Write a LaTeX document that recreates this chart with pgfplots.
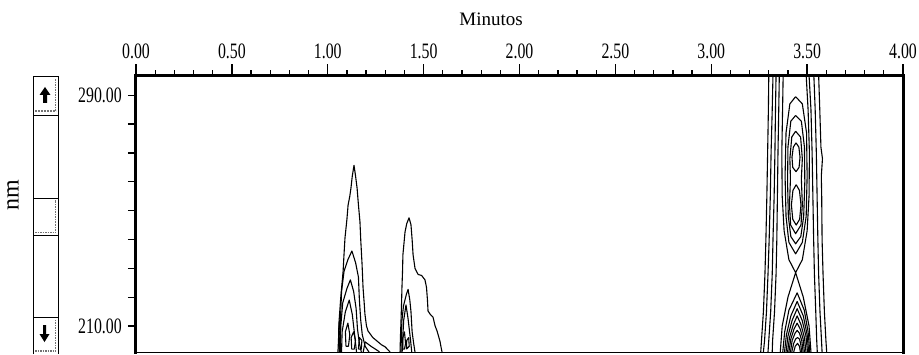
\documentclass[border=0pt]{standalone}
\usepackage{fontspec}
\setmainfont{Liberation Serif}
\newfontfamily\tickfont[FakeStretch=0.72]{Liberation Serif}
\usepackage{pgfplots}
\pgfplotsset{compat=1.18}
\tikzset{ct/.style={black, line width=1.1pt, mark=none, line join=round}}
\begin{document}
\begin{tikzpicture}[x=1pt,y=1pt]
\path[use as bounding box] (0,0) rectangle (919,354);
\begin{axis}[
  at={(136pt,2pt)}, anchor=south west,
  scale only axis, width=767pt, height=277pt,
  xmin=0, xmax=4, ymin=201, ymax=297,
  clip=false,
  axis line style={line width=0.8pt},
  xtick={0,0.5,1,1.5,2,2.5,3,3.5,4},
  xticklabels={0.00,0.50,1.00,1.50,2.00,2.50,3.00,3.50,4.00},
  minor x tick num=4,
  ytick={210,220,230,240,250,260,270,280,290},
  yticklabels={210.00,{},{},{},{},{},{},{},290.00},
  xtick pos=right, xticklabel pos=right,
  ytick pos=left, yticklabel pos=left,
  tick align=outside,
  major tick length=11pt, minor tick length=5pt,
  every tick/.style={black, line width=1.3pt},
  ytick style={/pgfplots/major tick length=8pt},
  tick label style={font=\tickfont\fontsize{22}{22}\selectfont, inner sep=0pt},
  xticklabel style={anchor=south, yshift=5pt},
  yticklabel style={anchor=east, xshift=-3pt},
  xlabel={Minutos},
  every axis x label/.style={at={(rel axis cs:0.463,1)}, anchor=base, yshift=50pt, font=\fontsize{19}{19}\selectfont},
  ylabel={nm},
  every axis y label/.style={at={(rel axis cs:0,0.567)}, xshift=-123pt, rotate=90, anchor=center, font=\fontsize{24}{24}\selectfont},
]
% ---------- peak near 1.1 min ----------
\addplot[ct] coordinates {(1.053,201)(1.056,205)(1.059,211.7)(1.068,220)(1.080,228.9)(1.085,235)(1.090,240.6)(1.100,247)(1.106,251.9)(1.115,255)(1.121,257.8)(1.128,262)(1.137,265.7)(1.145,262)(1.153,257.8)(1.160,252)(1.168,246.1)(1.172,240)(1.179,231.3)(1.184,223.4)(1.190,218)(1.194,214.1)(1.202,210)(1.210,208.3)(1.235,206)(1.257,204.8)(1.280,203.5)(1.299,202.8)(1.325,201)};
\addplot[ct] coordinates {(1.060,201)(1.064,208)(1.068,215)(1.072,222)(1.085,229)(1.105,233)(1.126,236)(1.145,232)(1.160,227)(1.165,219)(1.172,212)(1.180,207)(1.195,203)(1.215,201)};
\addplot[ct] coordinates {(1.065,201)(1.068,210)(1.078,218)(1.100,223)(1.118,226)(1.135,222)(1.148,216)(1.155,209)(1.165,204)(1.175,201)};
\addplot[ct] coordinates {(1.072,201)(1.075,208)(1.092,215)(1.112,219)(1.128,214)(1.140,207)(1.150,201)};
\addplot[ct] coordinates {(1.058,202)(1.057,209)(1.062,212)(1.066,206)(1.064,202)(1.058,202)};
\addplot[ct] coordinates {(1.095,203)(1.092,208)(1.105,211)(1.115,207)(1.108,203)(1.095,203)};
\addplot[ct] coordinates {(1.125,202)(1.122,206)(1.135,208)(1.145,205)(1.138,202)(1.125,202)};
\addplot[ct] coordinates {(1.160,202)(1.165,206)(1.178,205)(1.175,202)(1.160,202)};
\addplot[ct] coordinates {(1.185,201)(1.195,204.5)(1.225,203)(1.260,201.5)(1.270,201)};
% ---------- peak near 1.43 min ----------
\addplot[ct] coordinates {(1.377,201)(1.379,206)(1.382,211.7)(1.385,218)(1.387,223.4)(1.390,229)(1.392,234.7)(1.398,239)(1.403,242.6)(1.412,245.5)(1.424,247.5)(1.434,245.1)(1.440,240)(1.445,234.7)(1.455,230)(1.471,227.9)(1.490,227.5)(1.507,226)(1.515,223.4)(1.520,219)(1.523,215.2)(1.535,214)(1.549,213.1)(1.560,210)(1.570,208.3)(1.585,204.8)(1.590,203)(1.596,201)};
\addplot[ct] coordinates {(1.382,201)(1.384,207)(1.387,212)(1.395,217)(1.410,221)(1.419,222.7)(1.428,219)(1.434,215)(1.440,208)(1.448,204)(1.455,201)};
\addplot[ct] coordinates {(1.388,201)(1.392,207)(1.396,212)(1.408,217.3)(1.418,213)(1.425,209)(1.432,205)(1.438,201)};
\addplot[ct] coordinates {(1.392,202)(1.392,206)(1.400,208)(1.406,204)(1.400,202)(1.392,202)};
\addplot[ct] coordinates {(1.410,202)(1.412,205)(1.422,206)(1.425,203)(1.410,202)};
% ---------- peak near 3.45 min ----------
% full-height contours
\addplot[ct] coordinates {(3.300,297)(3.298,285)(3.294,270)(3.290,255)(3.285,240)(3.280,228)(3.272,215)(3.262,205)(3.258,201)};
\addplot[ct] coordinates {(3.322,297)(3.318,285)(3.312,270)(3.308,255)(3.302,240)(3.296,228)(3.288,215)(3.278,205)(3.272,201)};
\addplot[ct] coordinates {(3.338,297)(3.335,285)(3.332,270)(3.328,255)(3.322,240)(3.318,228)(3.310,215)(3.300,205)(3.296,201)};
\addplot[ct] coordinates {(3.355,297)(3.352,285)(3.348,270)(3.345,255)(3.342,240)(3.338,228)(3.330,215)(3.320,205)(3.318,201)};
\addplot[ct] coordinates {(3.510,297)(3.520,285)(3.526,270)(3.530,255)(3.534,240)(3.538,228)(3.545,215)(3.550,205)(3.553,201)};
\addplot[ct] coordinates {(3.535,297)(3.542,285)(3.548,270)(3.552,255)(3.556,240)(3.560,228)(3.567,215)(3.575,205)(3.578,201)};
\addplot[ct] coordinates {(3.560,297)(3.566,285)(3.572,272)(3.580,268)(3.574,262)(3.576,255)(3.578,240)(3.583,228)(3.590,215)(3.598,205)(3.602,201)};
% saddle-level contours
\addplot[ct] coordinates {(3.375,297)(3.372,285)(3.368,270)(3.370,255)(3.380,243)(3.405,233)(3.440,228.5)(3.475,233)(3.500,243)(3.510,255)(3.512,270)(3.505,285)(3.495,297)};
\addplot[ct] coordinates {(3.360,201)(3.370,210)(3.400,220)(3.440,228.5)(3.480,220)(3.510,210)(3.520,201)};
% closed contours around the upper maxima
\addplot[ct] coordinates {(3.440,289.5)(3.410,287)(3.390,277)(3.385,262)(3.390,248)(3.405,239)(3.440,235)(3.475,239)(3.495,248)(3.500,262)(3.497,277)(3.475,287)(3.440,289.5)};
\addplot[ct] coordinates {(3.440,283)(3.415,281)(3.400,272)(3.398,260)(3.402,248)(3.415,241)(3.440,238.5)(3.467,241)(3.482,248)(3.488,260)(3.486,272)(3.470,281)(3.440,283)};
\addplot[ct] coordinates {(3.440,277.5)(3.420,275.5)(3.410,268)(3.413,261)(3.408,252)(3.414,245)(3.440,242)(3.468,245)(3.475,252)(3.470,261)(3.475,268)(3.466,275.5)(3.440,277.5)};
\addplot[ct] coordinates {(3.442,273.5)(3.428,272)(3.421,268.5)(3.425,265)(3.442,263.5)(3.458,265)(3.463,268.5)(3.457,272)(3.442,273.5)};
\addplot[ct] coordinates {(3.443,259)(3.426,257)(3.418,252)(3.425,247)(3.443,245)(3.461,247)(3.468,252)(3.460,257)(3.443,259)};
% arches rising from the bottom
\addplot[ct] coordinates {(3.373,201)(3.383,208)(3.405,215.5)(3.448,221.5)(3.485,215.5)(3.505,208)(3.514,201)};
\addplot[ct] coordinates {(3.382,201)(3.392,207)(3.415,213.5)(3.448,218.5)(3.480,213.5)(3.500,207)(3.508,201)};
\addplot[ct] coordinates {(3.390,201)(3.400,206.5)(3.422,212)(3.448,216)(3.474,212)(3.494,206.5)(3.502,201)};
\addplot[ct] coordinates {(3.398,201)(3.408,206)(3.428,210.5)(3.448,213.5)(3.468,210.5)(3.486,206)(3.494,201)};
\addplot[ct] coordinates {(3.405,201)(3.415,205.5)(3.432,209)(3.448,211)(3.464,209)(3.479,205.5)(3.486,201)};
\addplot[ct] coordinates {(3.413,201)(3.422,205)(3.437,207.5)(3.448,208.5)(3.460,207.5)(3.472,205)(3.479,201)};
\addplot[ct] coordinates {(3.420,201)(3.430,204)(3.440,205.5)(3.450,206)(3.460,205.5)(3.466,204)(3.472,201)};
\addplot[ct] coordinates {(3.430,201)(3.438,203)(3.450,204)(3.460,203)(3.465,201)};
% heavy frame on left, top and right
\draw[line width=3pt, line cap=rect] (rel axis cs:0,0) -- (rel axis cs:0,1) -- (rel axis cs:1,1) -- (rel axis cs:1,0);
\end{axis}
% scroll bar
\draw[line width=1pt] (33,0) -- (33,277) -- (59,277);
\draw[line width=1.8pt] (58.5,277) -- (58.5,0);
\draw[line width=1pt] (33,238.5) -- (59,238.5);
\draw[black!55, line width=2pt, densely dotted] (35,242.5) -- (56,242.5);
\draw[black!55, line width=1.5pt, densely dotted] (55.5,243) -- (55.5,275);
\fill (45,267) -- (50.5,259) -- (47,259) -- (47,251) -- (43,251) -- (43,259) -- (39.5,259) -- cycle;
\draw[line width=1pt] (33,155) -- (59,155);
\draw[line width=1pt] (33,119) -- (59,119);
\draw[black!55, line width=1.5pt, densely dotted] (55.5,121) -- (55.5,154);
\draw[black!55, line width=1.5pt, densely dotted] (35,121.5) -- (56,121.5);
\draw[line width=1pt] (33,37) -- (59,37);
\fill (44.5,12) -- (49.5,20) -- (46,20) -- (46,29) -- (43,29) -- (43,20) -- (39.5,20) -- cycle;
\draw[black!55, line width=1.5pt, densely dotted] (35,3) -- (56,3);
\draw[black!55, line width=1.5pt, densely dotted] (55.5,3) -- (55.5,35);
\end{tikzpicture}
\end{document}
